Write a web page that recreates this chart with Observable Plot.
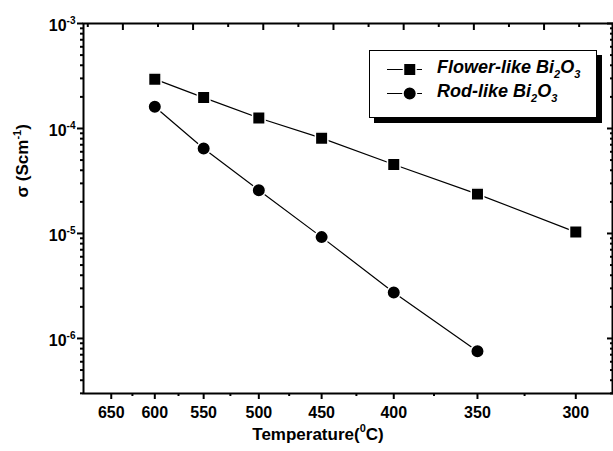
<!DOCTYPE html>
<html>
<head>
<meta charset="utf-8">
<script src="https://cdn.jsdelivr.net/npm/d3@7"></script>
<script src="https://cdn.jsdelivr.net/npm/@observablehq/plot@0.6"></script>
<style>
  body { margin: 0; background: #fff; }
  #wrap { position: relative; width: 613px; height: 451px; font-family: "Liberation Sans", Arial, sans-serif; }
  #legend { position: absolute; left: 369px; top: 50px; width: 226px; height: 66px; border: 1px solid #000; box-shadow: 5px 5px 0 #000; background: #fff; }
  .row { position: absolute; left: 0; height: 20px; width: 100%; }
  .row svg { position: absolute; left: 17px; top: 3px; }
  .row span { position: absolute; left: 67px; top: -2px; font: italic bold 18px "Liberation Sans", Arial, sans-serif; white-space: nowrap; }
  .row sub { font-size: 11px; vertical-align: -5px; line-height: 0; }
</style>
</head>
<body>
<div id="wrap"><div id="legend"></div></div>
<script>
// ---- data ----
const temps = [600, 550, 500, 450, 400, 350, 300];          // °C
const flowerSigma = [2.95e-4, 1.97e-4, 1.26e-4, 8.09e-5, 4.54e-5, 2.37e-5, 1.03e-5];
const rodTemps = [600, 550, 500, 450, 400, 350];
const rodSigma = [1.61e-4, 6.45e-5, 2.58e-5, 9.23e-6, 2.74e-6, 7.57e-7];
const seriesNames = ["Flower-like Bi_{2}O_{3}", "Rod-like Bi_{2}O_{3}"];

// ---- ticks ----
const xTickTemps = [650, 600, 550, 500, 450, 400, 350, 300];
const xMinorTemps = [625, 575, 525, 475, 425, 375, 325];
const topMajorInv = [1.1, 1.2, 1.3, 1.4, 1.5, 1.6, 1.7];
const topMinorInv = [1.05, 1.15, 1.25, 1.35, 1.45, 1.55, 1.65, 1.75];
const yMajor = [1e-3, 1e-4, 1e-5, 1e-6];
const yMinor = [-7, -6, -5, -4].flatMap(e => [2, 3, 4, 5, 6, 7, 8, 9].map(m => m * Math.pow(10, e))).filter(v => v >= 3e-7 && v <= 1e-3);
const xLabel = "Temperature(^{0}C)";
const yLabel = "σ (Scm^{-1})";

const inv = t => 1000 / (t + 273);   // axis is linear in 1000/T(K)

const flower = temps.map((t, i) => ({T: t, s: flowerSigma[i]}));
const rod = rodTemps.map((t, i) => ({T: t, s: rodSigma[i]}));

const chart = Plot.plot({
  width: 613,
  height: 451,
  marginLeft: 83,
  marginRight: 1,
  marginTop: 23,
  marginBottom: 58,
  style: {fontFamily: "Liberation Sans, Arial, sans-serif", fontWeight: "bold", color: "black", background: "white"},
  x: {type: "linear", domain: [1.0439, 1.7975]},
  y: {type: "log", domain: [2.99e-7, 1e-3]},
  marks: [
    // bottom axis (outward ticks)
    Plot.axisX({anchor: "bottom", ticks: xTickTemps.map(inv), tickFormat: v => String(Math.round(1000 / v - 273)),
      tickSize: 6, tickPadding: 7, strokeWidth: 2, fontSize: 16, label: null}),
    Plot.axisX({anchor: "bottom", ticks: xMinorTemps.map(inv), tickSize: 3, strokeWidth: 2, fill: "none", label: null}),
    // top axis (inward ticks, no labels)
    Plot.axisX({anchor: "top", ticks: topMajorInv, tickSize: 6, dy: 6, strokeWidth: 2, fill: "none", label: null}),
    Plot.axisX({anchor: "top", ticks: topMinorInv, tickSize: 3, dy: 3, strokeWidth: 2, fill: "none", label: null}),
    // left axis (outward ticks)
    Plot.axisY({anchor: "left", ticks: yMajor, tickSize: 6, strokeWidth: 2, fill: "none", label: null}),
    Plot.axisY({anchor: "left", ticks: yMinor, tickSize: 3, strokeWidth: 2, fill: "none", label: null}),
    // right axis (inward ticks)
    Plot.axisY({anchor: "right", ticks: yMajor, tickSize: 6, dx: -6, strokeWidth: 2, fill: "none", label: null}),
    Plot.axisY({anchor: "right", ticks: yMinor, tickSize: 3, dx: -3, strokeWidth: 2, fill: "none", label: null}),
    // y tick labels with superscript exponents
    Plot.text(yMajor, {y: d => d, frameAnchor: "left", text: d => "10^{" + Math.round(Math.log10(d)) + "}",
      textAnchor: "end", dx: -8, dy: 2, fontSize: 16}),
    Plot.frame({stroke: "black", strokeWidth: 2}),
    // series
    Plot.line(flower, {x: d => inv(d.T), y: "s", stroke: "black", strokeWidth: 1.2}),
    Plot.line(rod, {x: d => inv(d.T), y: "s", stroke: "black", strokeWidth: 1.2}),
    Plot.dot(flower, {x: d => inv(d.T), y: "s", symbol: "square", r: 7.05, fill: "black", stroke: "white", strokeWidth: 1.5}),
    Plot.dot(rod, {x: d => inv(d.T), y: "s", symbol: "circle", r: 6.75, fill: "black", stroke: "white", strokeWidth: 1.5}),
    // axis titles
    Plot.text([xLabel], {frameAnchor: "bottom", text: d => d, dx: -30, dy: 46, fontSize: 17}),
    Plot.text([yLabel], {frameAnchor: "left", text: d => d, rotate: -90, dx: -61, dy: -11, fontSize: 17})
  ]
});

// turn ^{..} / _{..} into superscript / subscript tspans
const NS = "http://www.w3.org/2000/svg";
function rich(svg) {
  svg.querySelectorAll("text").forEach(t => {
    const s = t.textContent;
    if (!/[\^_]\{/.test(s)) return;
    const fs = parseFloat(getComputedStyle(t).fontSize) || 16;
    while (t.firstChild) t.removeChild(t.firstChild);
    let cur = 0;
    const add = (str, kind) => {
      if (!str) return;
      const ts = document.createElementNS(NS, "tspan");
      const target = kind === "^" ? -0.42 * fs : kind === "_" ? 0.28 * fs : 0;
      const d = target - cur;
      if (d) ts.setAttribute("dy", d);
      cur = target;
      if (kind) ts.setAttribute("font-size", Math.round(fs * 0.65));
      ts.textContent = str;
      t.appendChild(ts);
    };
    const re = /([\^_])\{([^}]*)\}/g;
    let last = 0, m;
    while ((m = re.exec(s))) {
      add(s.slice(last, m.index), null);
      add(m[2], m[1]);
      last = re.lastIndex;
    }
    add(s.slice(last), null);
  });
}
const wrap = document.getElementById("wrap");
wrap.insertBefore(chart, wrap.firstChild);
rich(chart);

// legend
const legend = document.getElementById("legend");
const symbols = ["square", "circle"];
seriesNames.forEach((name, i) => {
  const row = document.createElement("div");
  row.className = "row";
  row.style.top = (8 + i * 24) + "px";
  const sym = symbols[i] === "square"
    ? '<rect x="16.5" y="1.25" width="12.5" height="12.5" fill="black" stroke="white" stroke-width="1.5"/>'
    : '<circle cx="22.7" cy="7.5" r="6.75" fill="black" stroke="white" stroke-width="1.5"/>';
  row.innerHTML = '<svg width="40" height="15"><line x1="0" x2="35" y1="7.5" y2="7.5" stroke="black" stroke-width="1.2"/>' + sym + '</svg>' +
    '<span>' + name.replace(/_\{([^}]*)\}/g, "<sub>$1</sub>") + '</span>';
  legend.appendChild(row);
});
</script>
</body>
</html>
